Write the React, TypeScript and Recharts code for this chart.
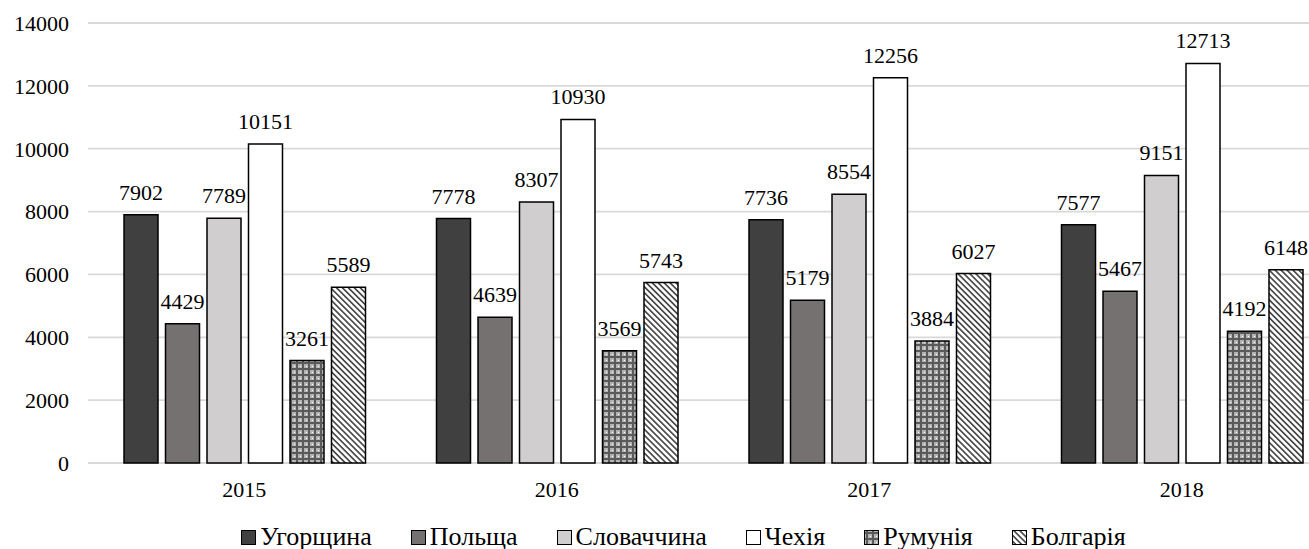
import React from 'react';
import { Bar, BarChart, CartesianGrid, LabelList, Legend, XAxis, YAxis } from 'recharts';

const years = ['2015', '2016', '2017', '2018'];
const hungary = [7902, 7778, 7736, 7577];
const poland = [4429, 4639, 5179, 5467];
const slovakia = [7789, 8307, 8554, 9151];
const czechia = [10151, 10930, 12256, 12713];
const romania = [3261, 3569, 3884, 4192];
const bulgaria = [5589, 5743, 6027, 6148];
const yTicks = [0, 2000, 4000, 6000, 8000, 10000, 12000, 14000];

const seriesList = [
  { key: 'hu', name: 'Угорщина', values: hungary, fill: '#404040' },
  { key: 'pl', name: 'Польща', values: poland, fill: '#767171' },
  { key: 'sk', name: 'Словаччина', values: slovakia, fill: '#d0cece' },
  { key: 'cz', name: 'Чехія', values: czechia, fill: '#ffffff' },
  { key: 'ro', name: 'Румунія', values: romania, fill: 'url(#roPattern)' },
  { key: 'bg', name: 'Болгарія', values: bulgaria, fill: 'url(#bgPattern)' },
];

const data = years.map((year, i) => {
  const row: Record<string, string | number> = { year };
  seriesList.forEach((s) => {
    row[s.key] = s.values[i];
  });
  return row;
});

const font = '"Liberation Serif", "Times New Roman", serif';

const LegendContent = () => (
  <div
    style={{
      display: 'flex',
      justifyContent: 'center',
      alignItems: 'center',
      height: 24,
      paddingLeft: 58,
      fontFamily: font,
      fontSize: 26,
      color: '#000',
    }}
  >
    {seriesList.map((s, i) => (
      <div
        key={s.key}
        style={{ display: 'flex', alignItems: 'center', marginLeft: i === 0 ? 0 : 39 }}
      >
        <svg width={15} height={15} style={{ marginRight: 4 }}>
          <rect x={0.5} y={0.5} width={14} height={14} fill={s.fill} stroke="#000" strokeWidth={1} />
        </svg>
        <span>{s.name}</span>
      </div>
    ))}
  </div>
);

export default function App() {
  return (
    <div style={{ position: 'absolute', left: 0, top: 0, width: 1309, height: 549, background: '#fff' }}>
      <BarChart
        width={1309}
        height={549}
        data={data}
        margin={{ top: 23, right: -29, left: 0, bottom: 0 }}
        barSize={34}
        barGap={7.5}
      >
        <defs>
          <pattern id="roPattern" width={6} height={6} patternUnits="userSpaceOnUse">
            <rect width={6} height={6} fill="#b4b4b4" />
            <rect x={0} y={2} width={6} height={2} fill="#5a5a5a" />
            <rect x={2} y={0} width={2} height={6} fill="#5a5a5a" />
            <rect x={0} y={0} width={1} height={1} fill="#ffffff" />
          </pattern>
          <pattern
            id="bgPattern"
            width={4.2}
            height={4.2}
            patternUnits="userSpaceOnUse"
            patternTransform="rotate(-45)"
          >
            <rect width={4.2} height={4.2} fill="#ffffff" />
            <rect x={0} y={0} width={1.7} height={4.2} fill="#4a4a4a" />
          </pattern>
        </defs>
        <CartesianGrid vertical={false} stroke="#d9d9d9" strokeWidth={1.8} />
        <XAxis
          dataKey="year"
          axisLine={false}
          tickLine={false}
          tickSize={0}
          tickMargin={18}
          height={62}
          tick={{ fill: '#000', fontSize: 22, fontFamily: font }}
        />
        <YAxis
          domain={[0, 14000]}
          ticks={yTicks}
          interval={0}
          axisLine={false}
          tickLine={false}
          tickSize={0}
          tickMargin={19}
          width={88}
          tick={{ fill: '#000', fontSize: 22, fontFamily: font }}
        />
        <Legend verticalAlign="bottom" content={<LegendContent />} wrapperStyle={{ left: 0, width: 1309 }} />
        {seriesList.map((s) => (
          <Bar
            key={s.key}
            dataKey={s.key}
            name={s.name}
            fill={s.fill}
            stroke="#000"
            strokeWidth={1.5}
            isAnimationActive={false}
          >
            <LabelList
              dataKey={s.key}
              position="top"
              offset={15}
              fontSize={22}
              fontFamily={font}
              fill="#000"
            />
          </Bar>
        ))}
      </BarChart>
    </div>
  );
}
